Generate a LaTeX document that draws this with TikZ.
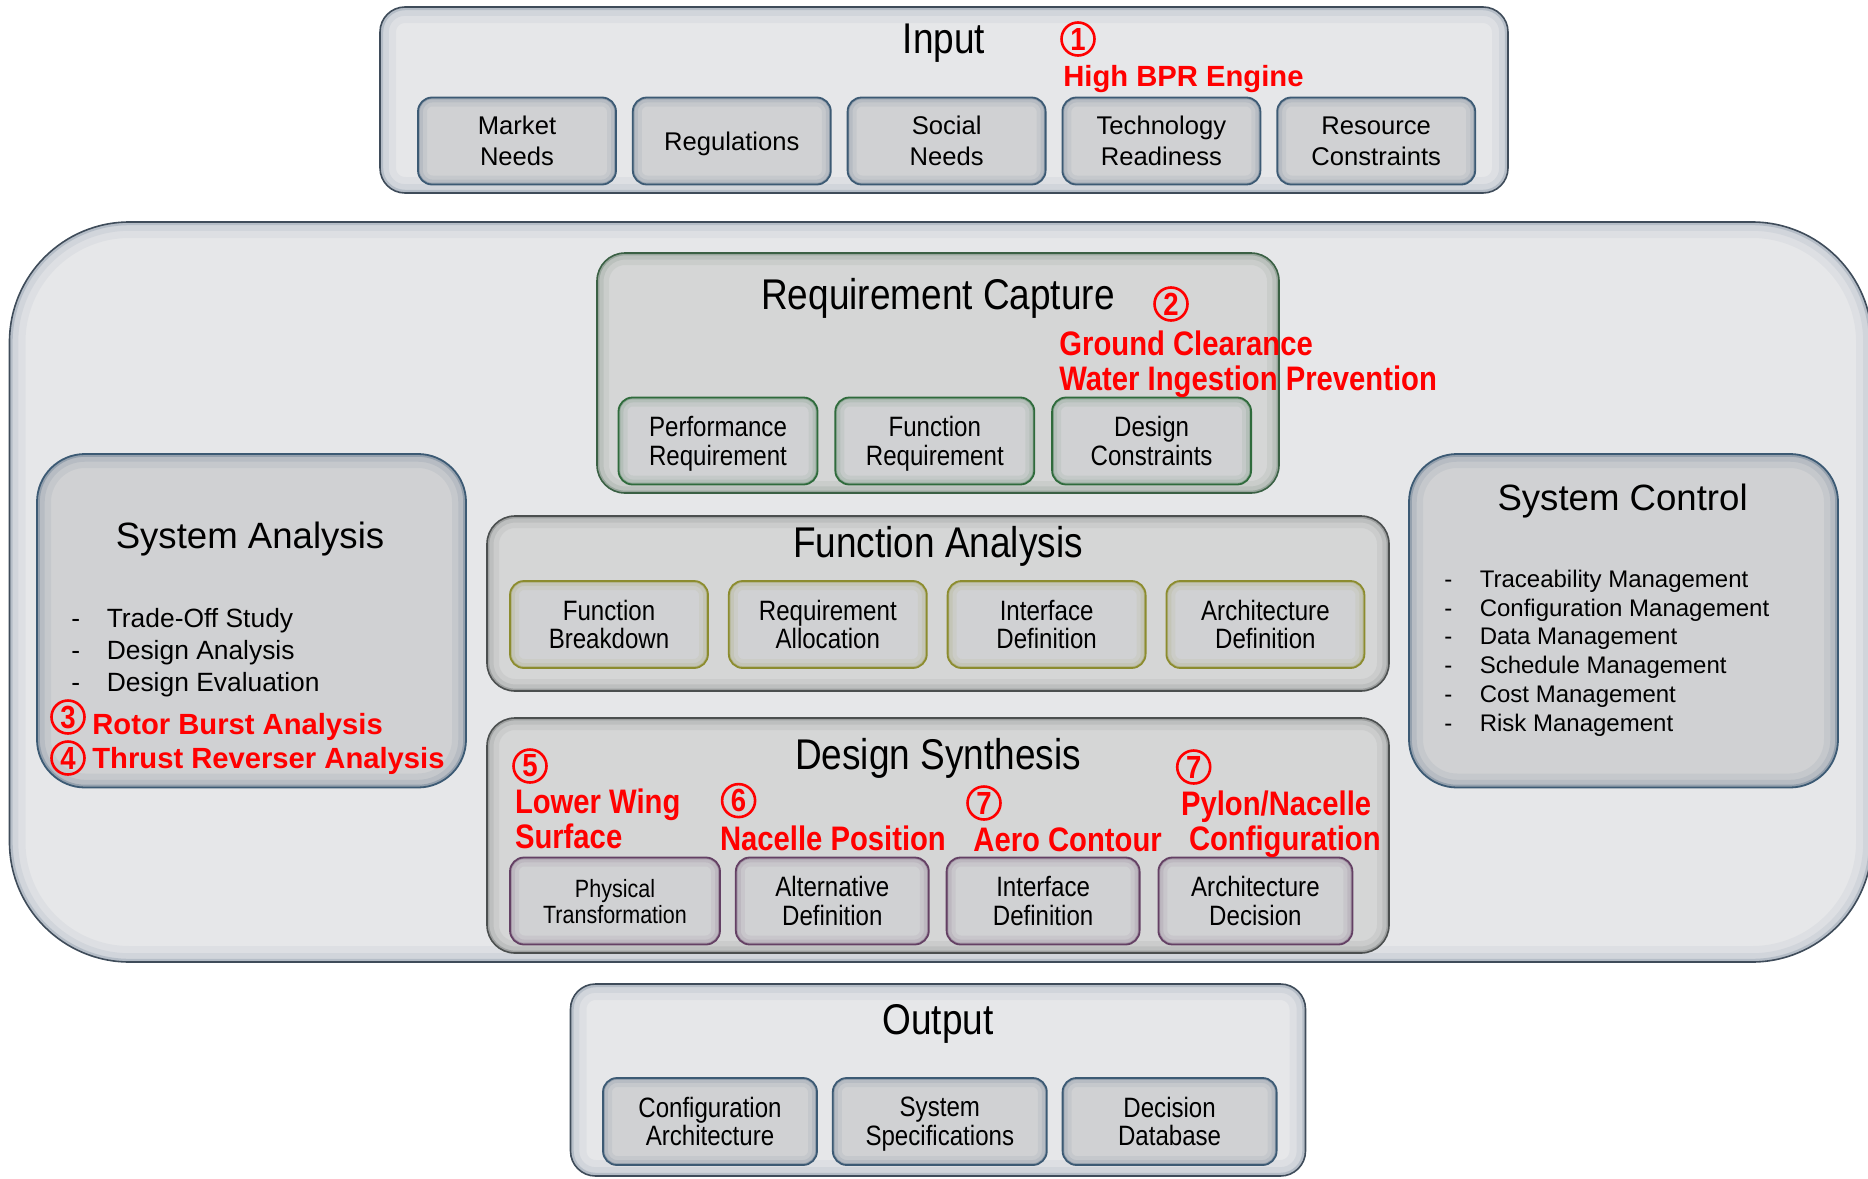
\documentclass[tikz,border=0pt]{standalone}
\usepackage{fontspec}
\setmainfont{Liberation Sans}
\newfontfamily\narrowfont[FakeStretch=0.86]{Liberation Sans}
\usetikzlibrary{positioning}

\definecolor{panelfill}{HTML}{E6E7E9}
\definecolor{panelline}{HTML}{3F4C5A}
\definecolor{panelglow}{HTML}{6F8296}
\definecolor{stagefill}{HTML}{D5D6D6}
\definecolor{stageline}{HTML}{4B4F4F}
\definecolor{tilefill}{HTML}{D0D1D3}
\definecolor{edgeblue}{HTML}{3C5A74}
\definecolor{edgegreen}{HTML}{2F6B3C}
\definecolor{edgeolive}{HTML}{8C8C2E}
\definecolor{edgeplum}{HTML}{644064}
\definecolor{notered}{HTML}{FF0000}

% fonts
\newcommand\ftTitle{\narrowfont\fontsize{21.5}{24}\selectfont}
\newcommand\ftHead{\fontsize{18.3}{22}\selectfont}
\newcommand\ftTile{\fontsize{12.8}{15.5}\selectfont}
\newcommand\ftSlim{\narrowfont\fontsize{14}{14.3}\selectfont}
\newcommand\ftSmall{\narrowfont\fontsize{12.5}{13}\selectfont}
\newcommand\ftListA{\fontsize{13.2}{16}\selectfont}
\newcommand\ftListB{\fontsize{12}{14.4}\selectfont}
\newcommand\ftNote{\bfseries\fontsize{14.6}{17.3}\selectfont}
\newcommand\ftSlimNote{\narrowfont\bfseries\fontsize{17}{17.3}\selectfont}
\newcommand\ftCirc{\narrowfont\bfseries\fontsize{16}{16}\selectfont}
\newcommand\bullitem[1]{\makebox[17.7pt][l]{-}#1}

\tikzset{
  % soft shading just inside the border
  inset/.style n args={3}{rounded corners=#3, path picture={
    \foreach \gw/\go in {#2/0.07, 0.55*#2/0.1, 0.2*#2/0.28}
      \draw[draw=#1, opacity=\go, line width=\gw, rounded corners=#3]
        (path picture bounding box.south west) rectangle (path picture bounding box.north east);
  }},
  panel/.style={draw=panelline, line width=0.8pt, fill=panelfill, inset={panelglow}{16pt}{#1}},
  stage/.style={draw=#1, line width=0.8pt, fill=stagefill, inset={#1}{12pt}{14pt}},
  sysbox/.style={draw=edgeblue, line width=0.9pt, fill=tilefill, inset={edgeblue}{14pt}{24pt},
    minimum width=214.5pt, minimum height=166.75pt},
  tile/.style={draw=#1, line width=0.9pt, fill=tilefill, inset={#1}{9pt}{7pt},
    minimum height=43.5pt, align=center, inner sep=1pt, text depth=0pt},
  heading/.style={inner sep=0pt, font=\ftTitle},
  circnum/.style={circle, draw=notered, line width=1.3pt, inner sep=0pt, minimum size=16.5pt,
    text=notered, font=\ftCirc},
  note/.style={inner sep=0pt, anchor=west, align=left, text=notered, font=\ftNote},
  slimnote/.style={note, font=\ftSlimNote},
  items/.style={inner sep=0pt, anchor=west, align=left},
}

\begin{document}
\begin{tikzpicture}[x=0.5pt,y=-0.5pt]
  \useasboundingbox (0,0) rectangle (1868,1178);

  % frames
  \node (core) [panel=60pt, minimum width=931.25pt, minimum height=370pt] at (940.75,592) {};
  \node (inp) [panel=12.5pt, minimum width=564pt, minimum height=93pt] at (944,100) {};
  \node (outp) [panel=12.5pt, minimum width=367.5pt, minimum height=96pt] at (938,1080) {};

  \node (reqcap) [stage=edgegreen!60!stageline, minimum width=341pt, minimum height=120pt] at (938,373) {};
  \node (funcan) [stage=stageline, minimum width=451pt, minimum height=87.5pt] at (938,603.5) {};
  \node (dsyn) [stage=stageline, minimum width=451pt, minimum height=117.5pt] at (938,835.5) {};
  \node (sysan) [sysbox] at (251.5,620.75) {};
  \node (sysctl) [sysbox] at (1623.5,620.75) {};

  % input
  \node (inpT) [heading] at (944,43) {Input};
  \node (market) [tile=edgeblue, minimum width=99pt, font=\ftTile] at (517,141) {Market\\Needs};
  \node (regul) [tile=edgeblue, minimum width=99pt, font=\ftTile, right=7.5pt of market] {Regulations};
  \node (social) [tile=edgeblue, minimum width=99pt, font=\ftTile, right=7.5pt of regul] {Social\\Needs};
  \node (techr) [tile=edgeblue, minimum width=99pt, font=\ftTile, right=7.5pt of social] {Technology\\Readiness};
  \node (resrc) [tile=edgeblue, minimum width=99pt, font=\ftTile, right=7.5pt of techr] {Resource\\Constraints};

  % requirement capture
  \node (reqT) [heading] at (938,298) {Requirement Capture};
  \node (perfreq) [tile=edgegreen, minimum width=99.5pt, font=\ftSlim] at (718,441) {Performance\\Requirement};
  \node (funcreq) [tile=edgegreen, minimum width=99.5pt, font=\ftSlim, right=8pt of perfreq] {Function\\Requirement};
  \node (descon) [tile=edgegreen, minimum width=99.5pt, font=\ftSlim, right=8pt of funcreq] {Design\\Constraints};

  % function analysis
  \node (funT) [heading] at (938,546) {Function Analysis};
  \node (fbreak) [tile=edgeolive, minimum width=99pt, font=\ftSlim] at (609,624.5) {Function\\Breakdown};
  \node (ralloc) [tile=edgeolive, minimum width=99pt, font=\ftSlim, right=9.5pt of fbreak] {Requirement\\Allocation};
  \node (ifdef) [tile=edgeolive, minimum width=99pt, font=\ftSlim, right=9.5pt of ralloc] {Interface\\Definition};
  \node (archdef) [tile=edgeolive, minimum width=99pt, font=\ftSlim, right=9.5pt of ifdef] {Architecture\\Definition};

  % design synthesis
  \node (dsynT) [heading] at (938,758) {Design Synthesis};
  \node (phys) [tile=edgeplum, minimum width=105pt, font=\ftSmall] at (615,901) {Physical\\Transformation};
  \node (altdef) [tile=edgeplum, minimum width=96.5pt, font=\ftSlim, right=7pt of phys] {Alternative\\Definition};
  \node (ifdef2) [tile=edgeplum, minimum width=96.5pt, font=\ftSlim, right=8pt of altdef] {Interface\\Definition};
  \node (archdec) [tile=edgeplum, minimum width=97pt, font=\ftSlim, right=8.5pt of ifdef2] {Architecture\\Decision};

  % output
  \node (outT) [heading] at (938,1024) {Output};
  \node (confarch) [tile=edgeblue, minimum width=107pt, font=\ftSlim] at (710,1121.5) {Configuration\\Architecture};
  \node (sysspec) [tile=edgeblue, minimum width=107pt, font=\ftSlim, right=7pt of confarch] {System\\Specifications};
  \node (decdb) [tile=edgeblue, minimum width=107pt, font=\ftSlim, right=7pt of sysspec] {Decision\\Database};

  % side boxes
  \node (sysanT) [inner sep=0pt, font=\ftHead] at (250,539) {System Analysis};
  \node (sysanL) [items, font=\ftListA] at (71,653)
    {\bullitem{Trade-Off Study}\\\bullitem{Design Analysis}\\\bullitem{Design Evaluation}};
  \node (sysctlT) [inner sep=0pt, font=\ftHead] at (1622.6,501) {System Control};
  \node (sysctlL) [items, font=\ftListB] at (1444,653)
    {\bullitem{Traceability Management}\\\bullitem{Configuration Management}\\
     \bullitem{Data Management}\\\bullitem{Schedule Management}\\
     \bullitem{Cost Management}\\\bullitem{Risk Management}};

  % red notes
  \node (c1) [circnum] at (1078,39) {1};
  \node (n1) [note] at (1063,79) {High BPR Engine};
  \node (c2) [circnum] at (1171,304) {2};
  \node (n2) [slimnote] at (1059,364) {Ground Clearance\\Water Ingestion Prevention};
  \node (c3) [circnum] at (68,717) {3};
  \node (n3) [note] at (92,727) {Rotor Burst Analysis};
  \node (c4) [circnum] at (68,758) {4};
  \node (n4) [note] at (92,761) {Thrust Reverser Analysis};
  \node (c5) [circnum] at (530,766) {5};
  \node (n5) [slimnote] at (514.6,819) {Lower Wing\\Surface};
  \node (c6) [circnum] at (738.6,800.6) {6};
  \node (n6) [slimnote] at (719.6,838) {Nacelle Position};
  \node (c7a) [circnum] at (984,803) {7};
  \node (n7a) [slimnote] at (973,840) {Aero Contour};
  \node (c7b) [circnum] at (1193.7,767) {7};
  \node (n7b) [slimnote] at (1180.6,824) {Pylon/Nacelle\\\hspace*{4pt}Configuration};
\end{tikzpicture}
\end{document}
